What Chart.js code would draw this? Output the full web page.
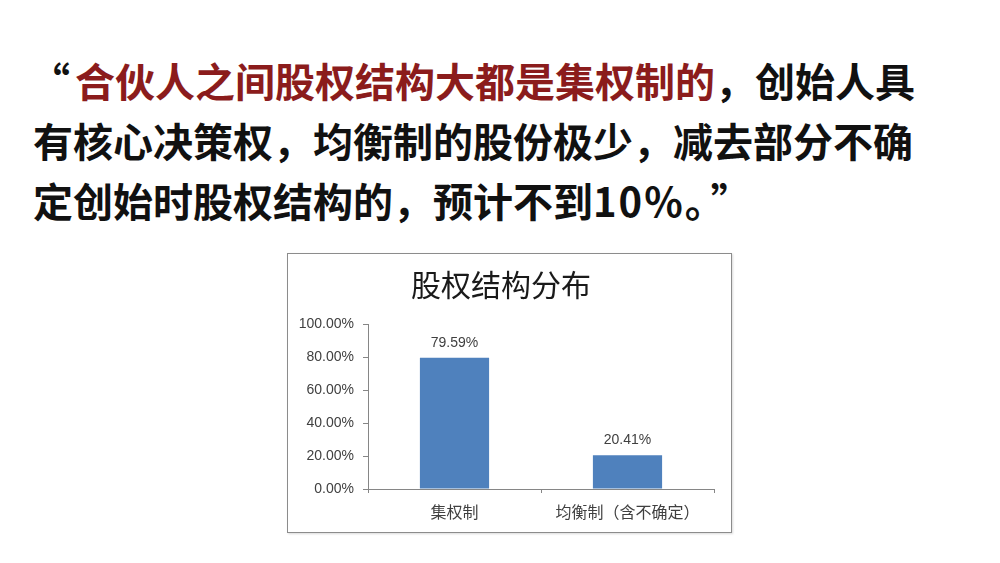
<!DOCTYPE html>
<html>
<head>
<meta charset="utf-8">
<script src="https://cdn.jsdelivr.net/npm/chart.js@4"></script>
<style>
  html, body { margin: 0; padding: 0; background: #fff; }
  body { width: 1000px; height: 563px; position: relative; overflow: hidden; font-family: "Noto Sans CJK SC", sans-serif; }
  .line { position: absolute; left: 33px; font-size: 40px; font-weight: 700; line-height: 60px; color: #111; white-space: nowrap; }
  .red { color: #8b1c1c; }
  .num { letter-spacing: 2px; }
  #chart-box { position: absolute; left: 287px; top: 253px; width: 443px; height: 278px; border: 1px solid #8c8c8c; box-shadow: 1px 1px 2px rgba(0,0,0,0.15); background: #fff; }
</style>
</head>
<body>
<div class="line" style="top:50px; left:30px;"><span style="margin-right:5px">“</span><span class="red">合伙人之间股权结构大都是集权制的</span>，创始人具</div>
<div class="line" style="top:110px;">有核心决策权，均衡制的股份极少，减去部分不确</div>
<div class="line" style="top:170px;">定创始时股权结构的，预计不到<span class="num">10%</span>。<span style="margin-left:6px">”</span></div>

<div id="chart-box"><canvas id="share-chart"></canvas></div>

<script>
// chart data
const chartTitle = '股权结构分布';
const categories = ['集权制', '均衡制（含不确定）'];
const shareValues = [79.59, 20.41];
const yTicks = [0, 20, 40, 60, 80, 100];

const axisColor = '#868686';
const textColor = '#404040';

// draws the value above each bar
const valueLabels = {
    id: 'valueLabels',
    afterDatasetsDraw(chart) {
        const ctx = chart.ctx;
        const meta = chart.getDatasetMeta(0);
        ctx.save();
        ctx.font = '14px "Liberation Sans", Arial, sans-serif';
        ctx.fillStyle = textColor;
        ctx.textAlign = 'center';
        ctx.textBaseline = 'middle';
        meta.data.forEach((bar, i) => {
            ctx.fillText(shareValues[i].toFixed(2) + '%', bar.x, bar.y - 15);
        });
        ctx.restore();
    }
};

new Chart(document.getElementById('share-chart'), {
    type: 'bar',
    data: {
        labels: categories,
        datasets: [{
            data: shareValues,
            backgroundColor: '#4f81bd',
            borderWidth: 0,
            categoryPercentage: 0.8,
            barPercentage: 0.5
        }]
    },
    options: {
        responsive: true,
        maintainAspectRatio: false,
        animation: false,
        layout: { padding: { left: 0, right: 17, top: 0, bottom: 0 } },
        plugins: {
            legend: { display: false },
            tooltip: { enabled: false },
            title: {
                display: true,
                text: chartTitle,
                color: '#1a1a1a',
                font: { family: '"Noto Sans CJK SC", sans-serif', size: 30, weight: 'normal' },
                padding: { top: 13, bottom: 21 }
            }
        },
        scales: {
            x: {
                grid: { display: true, drawOnChartArea: false, drawTicks: true, tickLength: 4, color: axisColor, offset: true },
                border: { color: axisColor },
                ticks: {
                    color: textColor,
                    padding: 9,
                    font: { family: '"Noto Sans CJK SC", sans-serif', size: 16 }
                },
                afterFit(scale) { scale.height = 43; }
            },
            y: {
                min: 0,
                max: 100,
                afterBuildTicks(scale) { scale.ticks = yTicks.map(v => ({ value: v })); },
                grid: { display: true, drawOnChartArea: false, drawTicks: true, tickLength: 5, color: axisColor },
                border: { color: axisColor },
                ticks: {
                    color: textColor,
                    padding: 9,
                    font: { family: '"Liberation Sans", Arial, sans-serif', size: 14 },
                    callback: v => v.toFixed(2) + '%'
                },
                afterFit(scale) { scale.width = 80; }
            }
        }
    },
    plugins: [valueLabels]
});
</script>
</body>
</html>
